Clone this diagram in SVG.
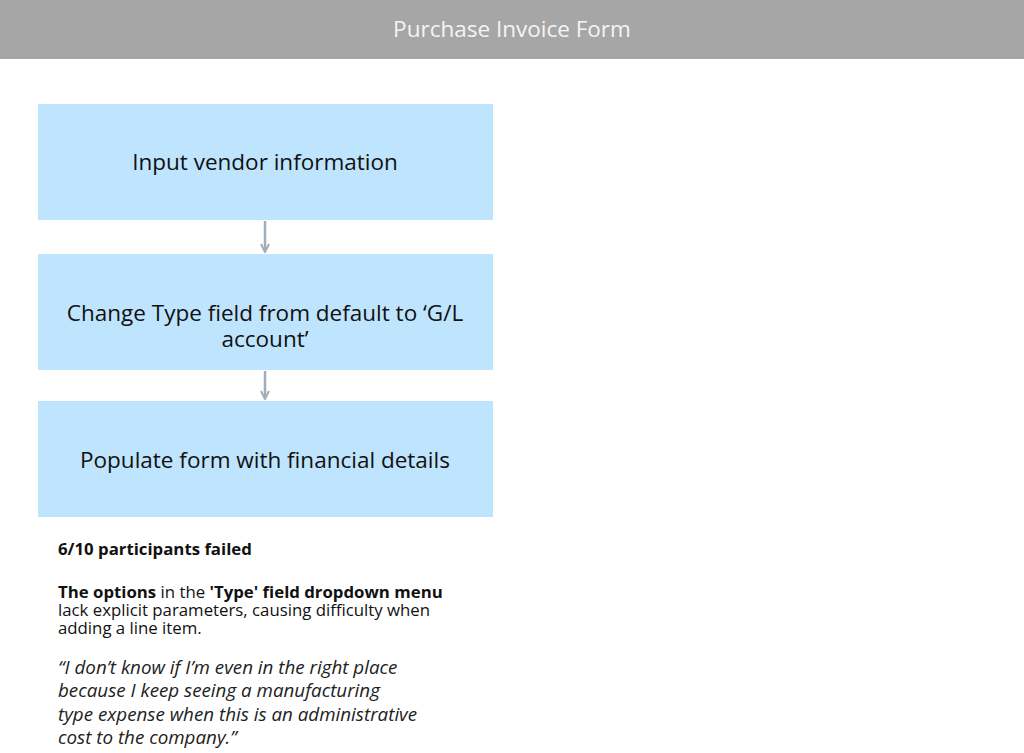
<svg xmlns="http://www.w3.org/2000/svg" width="1024" height="753" viewBox="0 0 1024 753">
<style>
.box{fill:#bfe4fd;}
.lbl{font-family:"Open Sans","Liberation Sans",sans-serif;font-size:22.5px;fill:#111;text-anchor:middle;}
.conn{stroke:#a3aeb8;stroke-width:2.5;fill:none;}
.note{font-family:"Open Sans","Liberation Sans",sans-serif;font-size:16.8px;fill:#111;}
.quote{font-family:"Open Sans","Liberation Sans",sans-serif;font-size:18.8px;font-style:italic;fill:#222;}
</style>
<defs>
<marker id="ah" viewBox="0 0 10 10" refX="9" refY="5" markerWidth="10" markerHeight="10" markerUnits="userSpaceOnUse" orient="auto">
<path d="M1,1 L9,5 L1,9" fill="none" stroke="#a3aeb8" stroke-width="2"/>
</marker>
</defs>
<rect x="0" y="0" width="1024" height="753" fill="#ffffff"/>
<g id="header">
<rect x="0" y="0" width="1024" height="59" fill="#a6a6a6"/>
<text x="512" y="37" font-family="'Open Sans','Liberation Sans',sans-serif" font-size="22.5" fill="#f4f4f4" text-anchor="middle">Purchase Invoice Form</text>
</g>
<g id="node1">
<rect class="box" x="38" y="104" width="455" height="116"/>
<text class="lbl" x="265" y="170">Input vendor information</text>
</g>
<g id="node2">
<rect class="box" x="38" y="254" width="455" height="116"/>
<text class="lbl" x="265" y="321">Change Type field from default to ‘G/L<tspan x="265" dy="26">account’</tspan></text>
</g>
<g id="node3">
<rect class="box" x="38" y="401" width="455" height="116"/>
<text class="lbl" x="265" y="468">Populate form with financial details</text>
</g>
<g id="connectors">
<line class="conn" x1="265" y1="221" x2="265" y2="252" marker-end="url(#ah)"/>
<line class="conn" x1="265" y1="371" x2="265" y2="399" marker-end="url(#ah)"/>
</g>
<g id="notes">
<text class="note" x="58" y="555" font-weight="bold">6/10 participants failed</text>
<text class="note" x="58" y="598"><tspan font-weight="bold">The options</tspan> in the <tspan font-weight="bold">'Type' field dropdown menu</tspan><tspan x="58" dy="18">lack explicit parameters, causing difficulty when</tspan><tspan x="58" dy="18">adding a line item.</tspan></text>
<text class="quote" x="58" y="674">“I don’t know if I’m even in the right place<tspan x="58" dy="23.3">because I keep seeing a manufacturing</tspan><tspan x="58" dy="23.3">type expense when this is an administrative</tspan><tspan x="58" dy="23.3">cost to the company.”</tspan></text>
</g>
</svg>
